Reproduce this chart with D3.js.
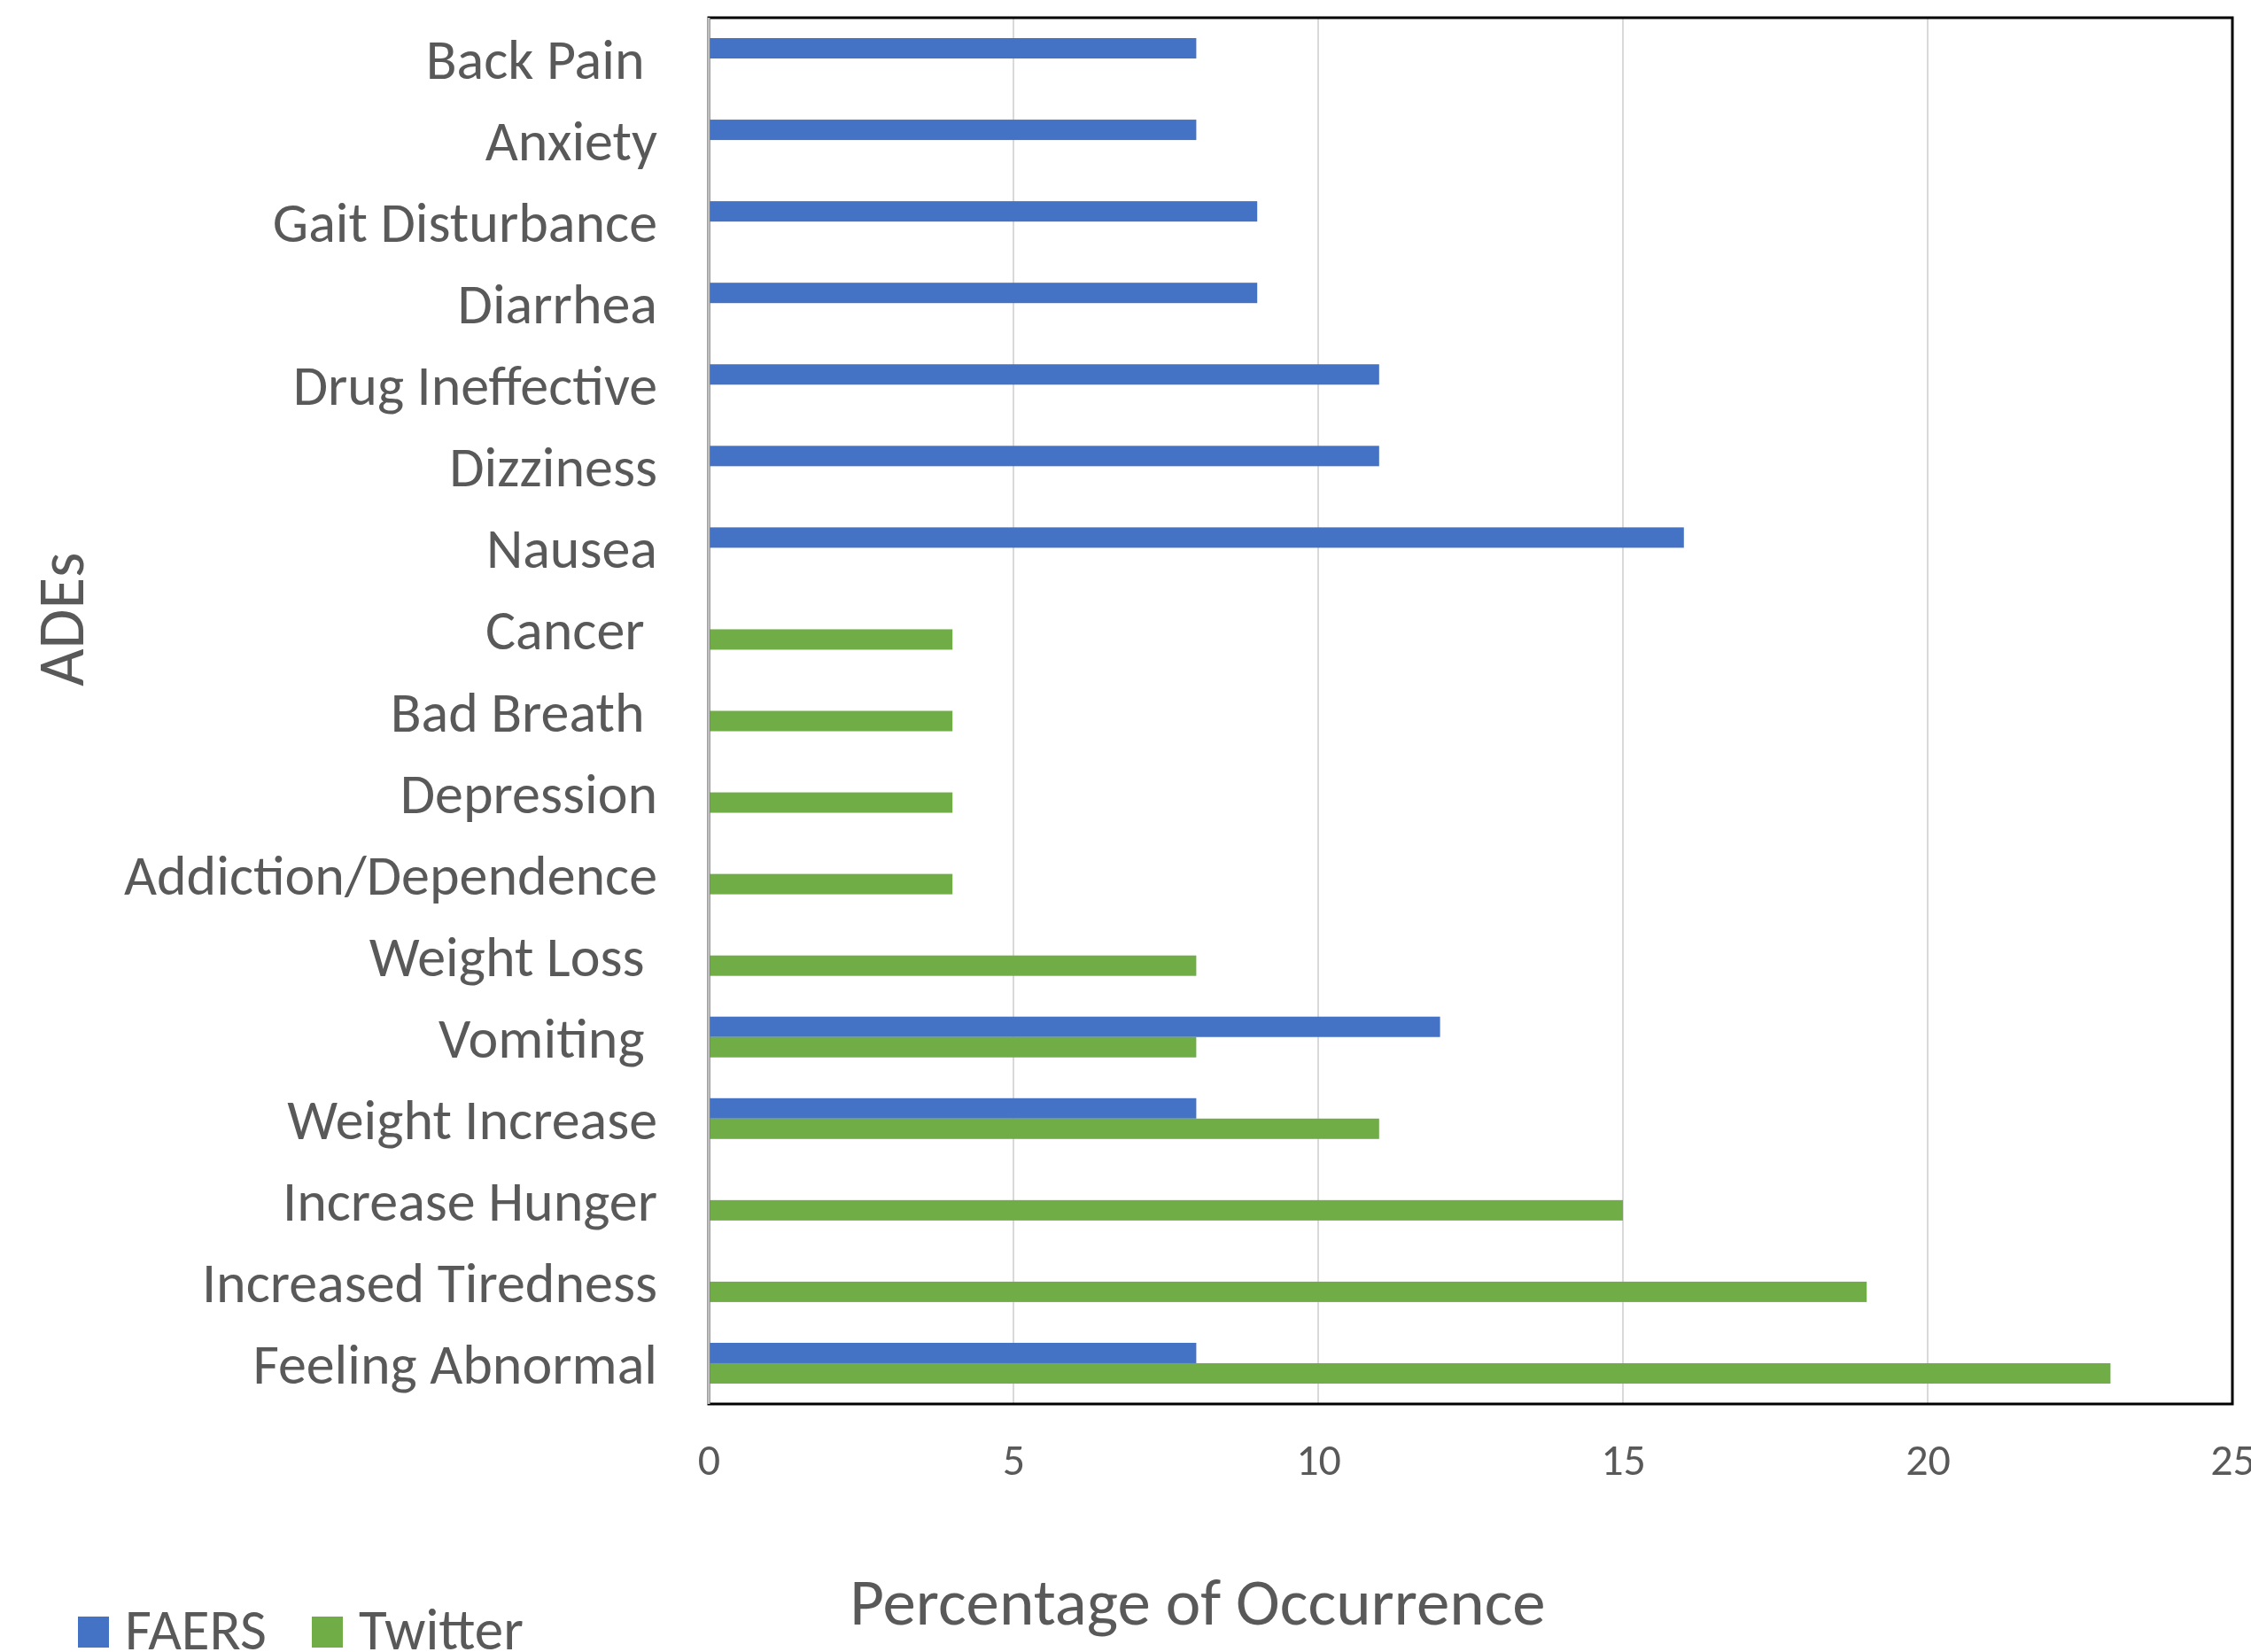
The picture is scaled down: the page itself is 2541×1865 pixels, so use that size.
<!DOCTYPE html>
<html lang="en">
<head>
  <meta charset="UTF-8">
  <title>ADEs: FAERS vs Twitter</title>
  <script src="https://d3js.org/d3.v7.min.js"></script>
  <style>
    body {
      margin: 0;
      background: white;
      font-family: Carlito, Calibri, Lato, sans-serif;
    }
    text {
      fill: #595959;
    }
  </style>
</head>
<body>
  <div id="chart"></div>

  <script>
    // categories top -> bottom (trailing spaces are in the original labels)
    const categories = [
      "Back Pain ", "Anxiety", "Gait Disturbance", "Diarrhea", "Drug Ineffective",
      "Dizziness", "Nausea", "Cancer ", "Bad Breath ", "Depression",
      "Addiction/Dependence", "Weight Loss ", "Vomiting ", "Weight Increase",
      "Increase Hunger", "Increased Tiredness", "Feeling Abnormal"
    ];
    const faers   = [8, 8, 9, 9, 11, 11, 16, null, null, null, null, null, 12, 8, null, null, 8];
    const twitter = [null, null, null, null, null, null, null, 4, 4, 4, 4, 8, 8, 11, 15, 19, 23];
    const seriesNames = ["FAERS", "Twitter"];
    const seriesColors = ["#4472C4", "#70AD47"];
    const xTicks = [0, 5, 10, 15, 20, 25];

    const width = 2541, height = 1865;
    const plot = { left: 800, right: 2520, top: 20, bottom: 1585 };

    const svg = d3.select("#chart")
      .append("svg")
      .attr("width", width)
      .attr("height", height)
      .style("background", "white");

    const x = d3.scaleLinear().domain([0, 25]).range([plot.left, plot.right]);
    const y = d3.scaleBand().domain(categories).range([plot.top, plot.bottom]);
    const sub = d3.scaleBand().domain(seriesNames).range([0, y.bandwidth()]).paddingOuter(1);

    // gridlines
    svg.append("g")
      .selectAll("line")
      .data(xTicks.slice(1, -1))
      .join("line")
      .attr("x1", d => x(d)).attr("x2", d => x(d))
      .attr("y1", plot.top).attr("y2", plot.bottom)
      .attr("stroke", "#d9d9d9")
      .attr("stroke-width", 2);

    // bars
    const rows = categories.map((c, i) => ({ cat: c, vals: [faers[i], twitter[i]] }));
    const g = svg.append("g");
    rows.forEach(r => {
      r.vals.forEach((v, k) => {
        if (v == null) return;
        g.append("rect")
          .attr("x", x(0))
          .attr("y", y(r.cat) + sub(seriesNames[k]))
          .attr("width", x(v) - x(0))
          .attr("height", sub.bandwidth())
          .attr("fill", seriesColors[k]);
      });
    });

    // plot frame
    svg.append("rect")
      .attr("x", plot.left).attr("y", plot.top)
      .attr("width", plot.right - plot.left).attr("height", plot.bottom - plot.top)
      .attr("fill", "none")
      .attr("stroke", "black")
      .attr("stroke-width", 3);

    svg.append("line")
      .attr("x1", plot.left).attr("x2", plot.left)
      .attr("y1", plot.top).attr("y2", plot.bottom)
      .attr("stroke", "#bfbfbf")
      .attr("stroke-width", 3);

    // y axis labels
    const yAxis = svg.append("g")
      .attr("transform", `translate(${plot.left},0)`)
      .call(d3.axisLeft(y).tickSize(0).tickPadding(58));
    yAxis.select(".domain").remove();
    yAxis.selectAll("text")
      .attr("font-family", "Carlito, Calibri, Lato, sans-serif")
      .attr("font-size", 64)
      .attr("dy", "0.36em")
      .attr("fill", "#595959")
      .style("white-space", "pre");

    // x axis labels
    const xAxis = svg.append("g")
      .attr("transform", `translate(0,${plot.bottom})`)
      .call(d3.axisBottom(x).tickValues(xTicks).tickSize(0).tickPadding(44));
    xAxis.select(".domain").remove();
    xAxis.selectAll("text")
      .attr("font-family", "Carlito, Calibri, Lato, sans-serif")
      .attr("font-size", 50)
      .attr("fill", "#595959");

    // axis titles
    svg.append("text")
      .attr("transform", "translate(94,699) rotate(-90)")
      .attr("text-anchor", "middle")
      .attr("font-size", 73)
      .text("ADEs");

    svg.append("text")
      .attr("x", 1352)
      .attr("y", 1834)
      .attr("text-anchor", "middle")
      .attr("font-size", 75)
      .text("Percentage of Occurrence");

    // legend
    const legendX = [88, 352];
    seriesNames.forEach((s, i) => {
      svg.append("rect")
        .attr("x", legendX[i]).attr("y", 1825)
        .attr("width", 35).attr("height", 35)
        .attr("fill", seriesColors[i]);
      svg.append("text")
        .attr("x", legendX[i] + 53)
        .attr("y", 1862)
        .attr("font-size", 65)
        .text(s);
    });
  </script>
</body>
</html>
